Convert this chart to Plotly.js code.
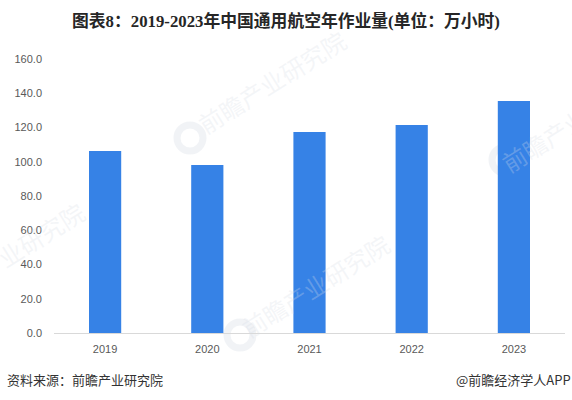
<!DOCTYPE html>
<html><head><meta charset="utf-8">
<script src="https://cdn.plot.ly/plotly-3.0.1.min.js"></script>
<style>html,body{margin:0;padding:0;background:#fff}</style></head>
<body><div id="chart" style="width:572px;height:400px"></div>
<script>
const years = ["2019","2020","2021","2022","2023"];
const hours = [106.3,98.1,117.4,121.5,135.5];
const tickValues = [0,20,40,60,80,100,120,140,160];
const tickLabels = ["0.0","20.0","40.0","60.0","80.0","100.0","120.0","140.0","160.0"];
const titleText = "图表8：2019-2023年中国通用航空年作业量(单位：万小时)";
const sourceText = "资料来源：前瞻产业研究院";
const creditText = "@前瞻经济学人APP";
const markText = "前瞻产业研究院";
const markSpots = [[272,82],[10,253],[315,285],[575,120]];
const logoSpots = [[190,138],[240,335],[505,160]];

const L = 54, R = 7, T = 59, B = 67, W = 572 - L - R, H = 400 - T - B;
const cn = '"Noto Sans CJK SC","Noto Sans",sans-serif';
const marks = markSpots.map(p => ({
  text: markText, xref:'paper', yref:'paper', x:(p[0]-L)/W, y:(T+H-p[1])/H,
  xanchor:'center', yanchor:'middle',
  showarrow:false, textangle:-32, font:{family:cn,size:24,color:'rgba(215,221,230,0.28)'}
}));
const logos = logoSpots.map(p => ({
  type:'circle', layer:'below', xref:'paper', yref:'paper',
  x0:(p[0]-13-L)/W, x1:(p[0]+13-L)/W, y0:(T+H-p[1]-13)/H, y1:(T+H-p[1]+13)/H,
  fillcolor:'rgba(0,0,0,0)', line:{color:'rgba(215,221,230,0.35)',width:7}
}));
Plotly.newPlot('chart',[{
  type:'bar', x:years, y:hours, marker:{color:'#3682E6'}, width:0.315
}],{
  width:572,height:400,paper_bgcolor:'#fff',plot_bgcolor:'rgba(0,0,0,0)',
  margin:{l:L,r:R,t:T,b:B},showlegend:false,
  shapes:logos,
  title:{text:titleText,x:0.5,xanchor:'center',y:0.947,yanchor:'middle',
    font:{family:'"Liberation Serif","Noto Sans CJK SC",serif',size:16.8,color:'#262626',weight:700}},
  xaxis:{type:'category',tickvals:years,ticktext:years,showgrid:false,zeroline:false,
    showline:true,linecolor:'#D9D9D9',linewidth:1,ticks:'',ticklabelstandoff:6,
    tickfont:{family:'"Liberation Sans",sans-serif',size:11,color:'#595959'}},
  yaxis:{range:[0,160],tickvals:tickValues,ticktext:tickLabels,showgrid:false,zeroline:false,
    showline:false,ticks:'',ticklen:0,ticklabelstandoff:11,
    tickfont:{family:'"Liberation Sans",sans-serif',size:11,color:'#595959'}},
  annotations:marks.concat([
    {text:sourceText,xref:'paper',yref:'paper',x:(5-L)/W,y:0,yshift:-46,xanchor:'left',yanchor:'middle',showarrow:false,
     font:{family:cn,size:13,color:'#333'}},
    {text:creditText,xref:'paper',yref:'paper',x:1,xshift:8,y:0,yshift:-46,xanchor:'right',yanchor:'middle',showarrow:false,
     font:{family:cn,size:13,color:'#333'}}
  ])
},{displayModeBar:false});
</script></body></html>
